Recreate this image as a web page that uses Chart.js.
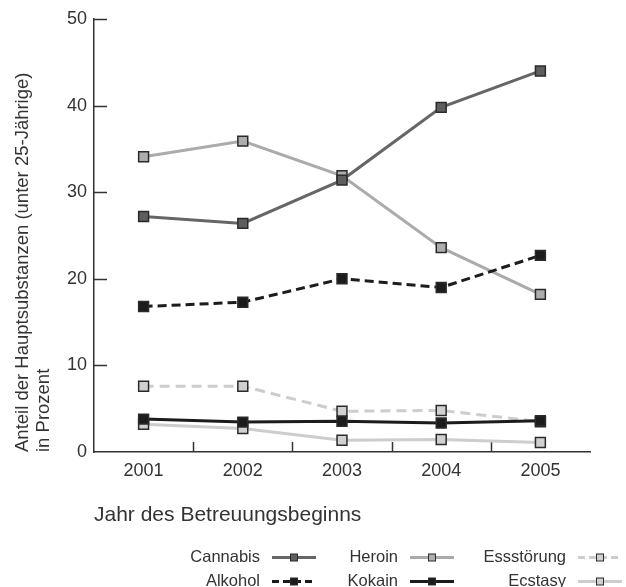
<!DOCTYPE html>
<html>
<head>
<meta charset="utf-8">
<script src="https://cdn.jsdelivr.net/npm/chart.js"></script>
<style>
  html, body { margin: 0; padding: 0; background: #fff; }
  #wrap { width: 626px; height: 587px; }
</style>
</head>
<body>
<div id="wrap"><canvas id="graph" width="626" height="587"></canvas></div>
<script>
const years = ['2001', '2002', '2003', '2004', '2005'];

const cannabis   = [27.2, 26.4, 31.4, 39.8, 44.0];
const heroin     = [34.1, 35.9, 31.9, 23.6, 18.2];
const alkohol    = [16.8, 17.3, 20.0, 19.0, 22.7];
const essstoerung = [7.6, 7.6, 4.7, 4.8, 3.5];
const kokain     = [3.8, 3.45, 3.55, 3.35, 3.6];
const ecstasy    = [3.2, 2.7, 1.35, 1.45, 1.1];

const yTicks = [0, 10, 20, 30, 40, 50];

const font = "'Liberation Sans', Arial, sans-serif";
const ink = '#333333';

// legend is drawn by hand: text left of the symbol, three columns
const legendCols = [['Cannabis', 'Alkohol'], ['Heroin', 'Kokain'], ['Essstörung', 'Ecstasy']];
const legendTextRight = [260, 398, 566];
const legendRowY = [557, 581];

function series(label, data, color, fill, dash) {
    return {
        label: label,
        data: data,
        borderColor: color,
        borderWidth: 3,
        borderDash: dash || [],
        pointStyle: 'rect',
        pointRadius: 7,
        pointHoverRadius: 7,
        pointBackgroundColor: fill,
        pointBorderColor: '#2a2a2a',
        pointBorderWidth: 1.5,
        tension: 0,
        fill: false
    };
}

// first dataset is drawn on top
const datasets = [
    series('Kokain', kokain, '#1c1c1c', '#1c1c1c'),
    series('Alkohol', alkohol, '#1c1c1c', '#1c1c1c', [9, 5]),
    series('Cannabis', cannabis, '#666666', '#5e5e5e'),
    series('Heroin', heroin, '#ababab', '#adadad'),
    series('Essstörung', essstoerung, '#cdcdcd', '#d0d0d0', [10, 6]),
    series('Ecstasy', ecstasy, '#cdcdcd', '#d0d0d0')
];

const axisMarks = {
    id: 'axisMarks',
    beforeDatasetsDraw(chart) {
        const {ctx, chartArea, scales: {x, y}} = chart;
        ctx.save();
        ctx.strokeStyle = ink;
        ctx.lineWidth = 1.5;
        ctx.beginPath();
        y.ticks.forEach(t => {
            if (t.value === 0) return;
            const py = Math.round(y.getPixelForValue(t.value)) + 0.5;
            ctx.moveTo(chartArea.left, py);
            ctx.lineTo(chartArea.left + 13, py);
        });
        for (let i = 0; i < years.length - 1; i++) {
            const px = Math.round((x.getPixelForValue(i) + x.getPixelForValue(i + 1)) / 2) + 0.5;
            ctx.moveTo(px, chartArea.bottom);
            ctx.lineTo(px, chartArea.bottom - 10);
        }
        ctx.stroke();
        ctx.restore();
    }
};

const sideLegend = {
    id: 'sideLegend',
    afterDraw(chart) {
        const ctx = chart.ctx;
        ctx.save();
        ctx.font = '16.5px ' + font;
        ctx.textAlign = 'right';
        ctx.textBaseline = 'middle';
        legendCols.forEach((col, c) => {
            col.forEach((name, r) => {
                const ds = chart.data.datasets.find(d => d.label === name);
                const tx = legendTextRight[c];
                const ty = legendRowY[r];
                ctx.fillStyle = ink;
                ctx.fillText(name, tx, ty);
                const x0 = tx + 12, x1 = tx + 56, ly = ty + 0.5;
                ctx.strokeStyle = ds.borderColor;
                ctx.lineWidth = 3;
                ctx.setLineDash(ds.borderDash.length ? [7, 4] : []);
                ctx.beginPath();
                ctx.moveTo(x0, ly);
                ctx.lineTo(x1, ly);
                ctx.stroke();
                ctx.setLineDash([]);
                const mx = (x0 + x1) / 2;
                ctx.fillStyle = ds.pointBackgroundColor;
                ctx.fillRect(mx - 3.5, ly - 3.5, 7, 7);
                ctx.strokeStyle = '#2a2a2a';
                ctx.lineWidth = 1;
                ctx.strokeRect(mx - 3.5, ly - 3.5, 7, 7);
            });
        });
        ctx.restore();
    }
};

new Chart(document.getElementById('graph'), {
    type: 'line',
    data: { labels: years, datasets: datasets },
    options: {
        responsive: false,
        animation: false,
        events: [],
        layout: { padding: { left: 0, right: 36, top: 19, bottom: 47 } },
        plugins: { legend: { display: false }, tooltip: { enabled: false } },
        scales: {
            x: {
                offset: true,
                grid: { display: false, drawTicks: false, offset: true },
                border: { display: true, color: ink, width: 1.5 },
                ticks: { color: ink, font: { family: font, size: 18 }, padding: 8, maxRotation: 0 },
                title: {
                    display: true,
                    text: 'Jahr des Betreuungsbeginns',
                    align: 'start',
                    color: ink,
                    font: { family: font, size: 21 },
                    padding: { top: 0, bottom: 12 }
                },
                afterFit(scale) { scale.height = 88; }
            },
            y: {
                min: 0,
                max: 50,
                afterBuildTicks(scale) { scale.ticks = yTicks.map(v => ({ value: v })); },
                grid: { display: false, drawTicks: false },
                border: { display: true, color: ink, width: 1.5 },
                ticks: { color: ink, font: { family: font, size: 18 }, padding: 7 },
                title: {
                    display: true,
                    text: ['Anteil der Hauptsubstanzen (unter 25-Jährige)', 'in Prozent'],
                    align: 'start',
                    color: ink,
                    font: { family: font, size: 18.5, lineHeight: 1.15 },
                    padding: { top: 12, bottom: 0 }
                },
                afterFit(scale) { scale.width = 94; }
            }
        }
    },
    plugins: [axisMarks, sideLegend]
});
</script>
</body>
</html>
